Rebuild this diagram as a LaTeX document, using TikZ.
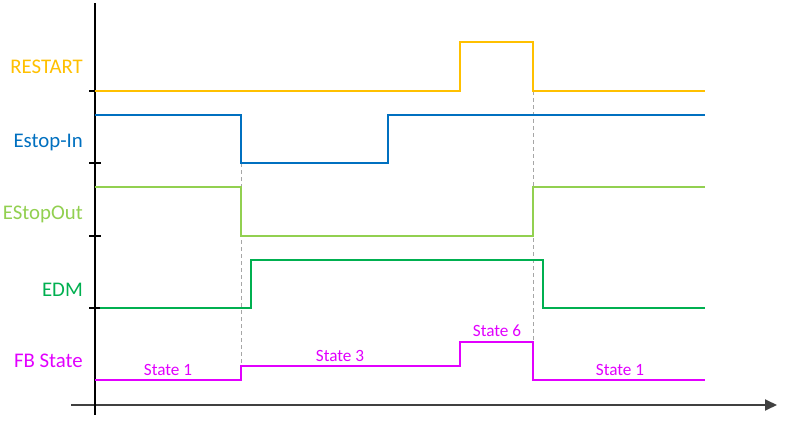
\documentclass[tikz,border=0pt]{standalone}
\usepackage{fontspec}
\setmainfont{Carlito}
\usetikzlibrary{arrows.meta}
\definecolor{cRestart}{HTML}{FFC000}
\definecolor{cEstopIn}{HTML}{0070C0}
\definecolor{cEstopOut}{HTML}{92D050}
\definecolor{cEDM}{HTML}{00B050}
\definecolor{cFB}{RGB}{226,0,255}
\definecolor{cAxis}{HTML}{404040}
\definecolor{cDash}{HTML}{A6A6A6}
\tikzset{
  sig/.style={line width=2.6pt, line join=miter},
  lbl/.style={anchor=base east, inner sep=0pt, font=\fontsize{20.8}{24}\selectfont},
  stlbl/.style={anchor=base, inner sep=0pt, text=cFB, font=\fontsize{17.2}{20}\selectfont},
  guide/.style={cDash, line width=1pt, dash pattern=on 4pt off 3pt},
  tick/.style={black, line width=1.2pt}
}
\begin{document}
\begin{tikzpicture}[x=1pt,y=-1pt]
\useasboundingbox[fill=white] (0,0) rectangle (785,431);
% guide lines
\coordinate (g1t) at (241,163); \coordinate (g1b) at (241,366);
\coordinate (g2t) at (533,91);  \coordinate (g2b) at (533,380);
\draw[guide] (g1t) -- (g1b);
\draw[guide] (g2t) -- (g2b);
% axes
\coordinate (yt) at (95,3); \coordinate (yb) at (95,415);
\coordinate (xl) at (71,405); \coordinate (xr) at (777,405);
\draw[cAxis, line width=1.8pt, -{Triangle[length=12pt,width=11pt]}] (xl) -- (xr);
\draw[black, line width=1.8pt] (yt) -- (yb);
% ticks
\foreach \yy [count=\i] in {91,163,236,308} {
  \coordinate (tl\i) at (89,\yy); \coordinate (tr\i) at (101,\yy);
  \draw[tick] (tl\i) -- (tr\i);
}
% signals
\draw[sig, cRestart] (95,91) -- (460,91) -- (460,42) -- (533,42) -- (533,91) -- (705,91);
\draw[sig, cEstopIn] (95,115) -- (241,115) -- (241,163) -- (388,163) -- (388,115) -- (705,115);
\draw[sig, cEstopOut] (95,187) -- (241,187) -- (241,236) -- (533,236) -- (533,187) -- (705,187);
\draw[sig, cEDM] (100,308) -- (251,308) -- (251,260) -- (543,260) -- (543,308) -- (705,308);
\draw[sig, cFB] (95,380) -- (241,380) -- (241,366) -- (460,366) -- (460,342) -- (533,342) -- (533,380) -- (705,380);
% signal labels
\node[lbl, text=cRestart] (lRestart) at (83,73) {RESTART};
\node[lbl, text=cEstopIn] (lEstopIn) at (83,147) {Estop-In};
\node[lbl, text=cEstopOut] (lEstopOut) at (83,219) {EStopOut};
\node[lbl, text=cEDM] (lEDM) at (83,296) {EDM};
\node[lbl, text=cFB] (lFB) at (83,367) {FB State};
% state labels
\node[stlbl] (s1a) at (168,375) {State 1};
\node[stlbl] (s3) at (340,361) {State 3};
\node[stlbl] (s6) at (497,336.5) {State 6};
\node[stlbl] (s1b) at (620,375) {State 1};
\end{tikzpicture}
\end{document}
